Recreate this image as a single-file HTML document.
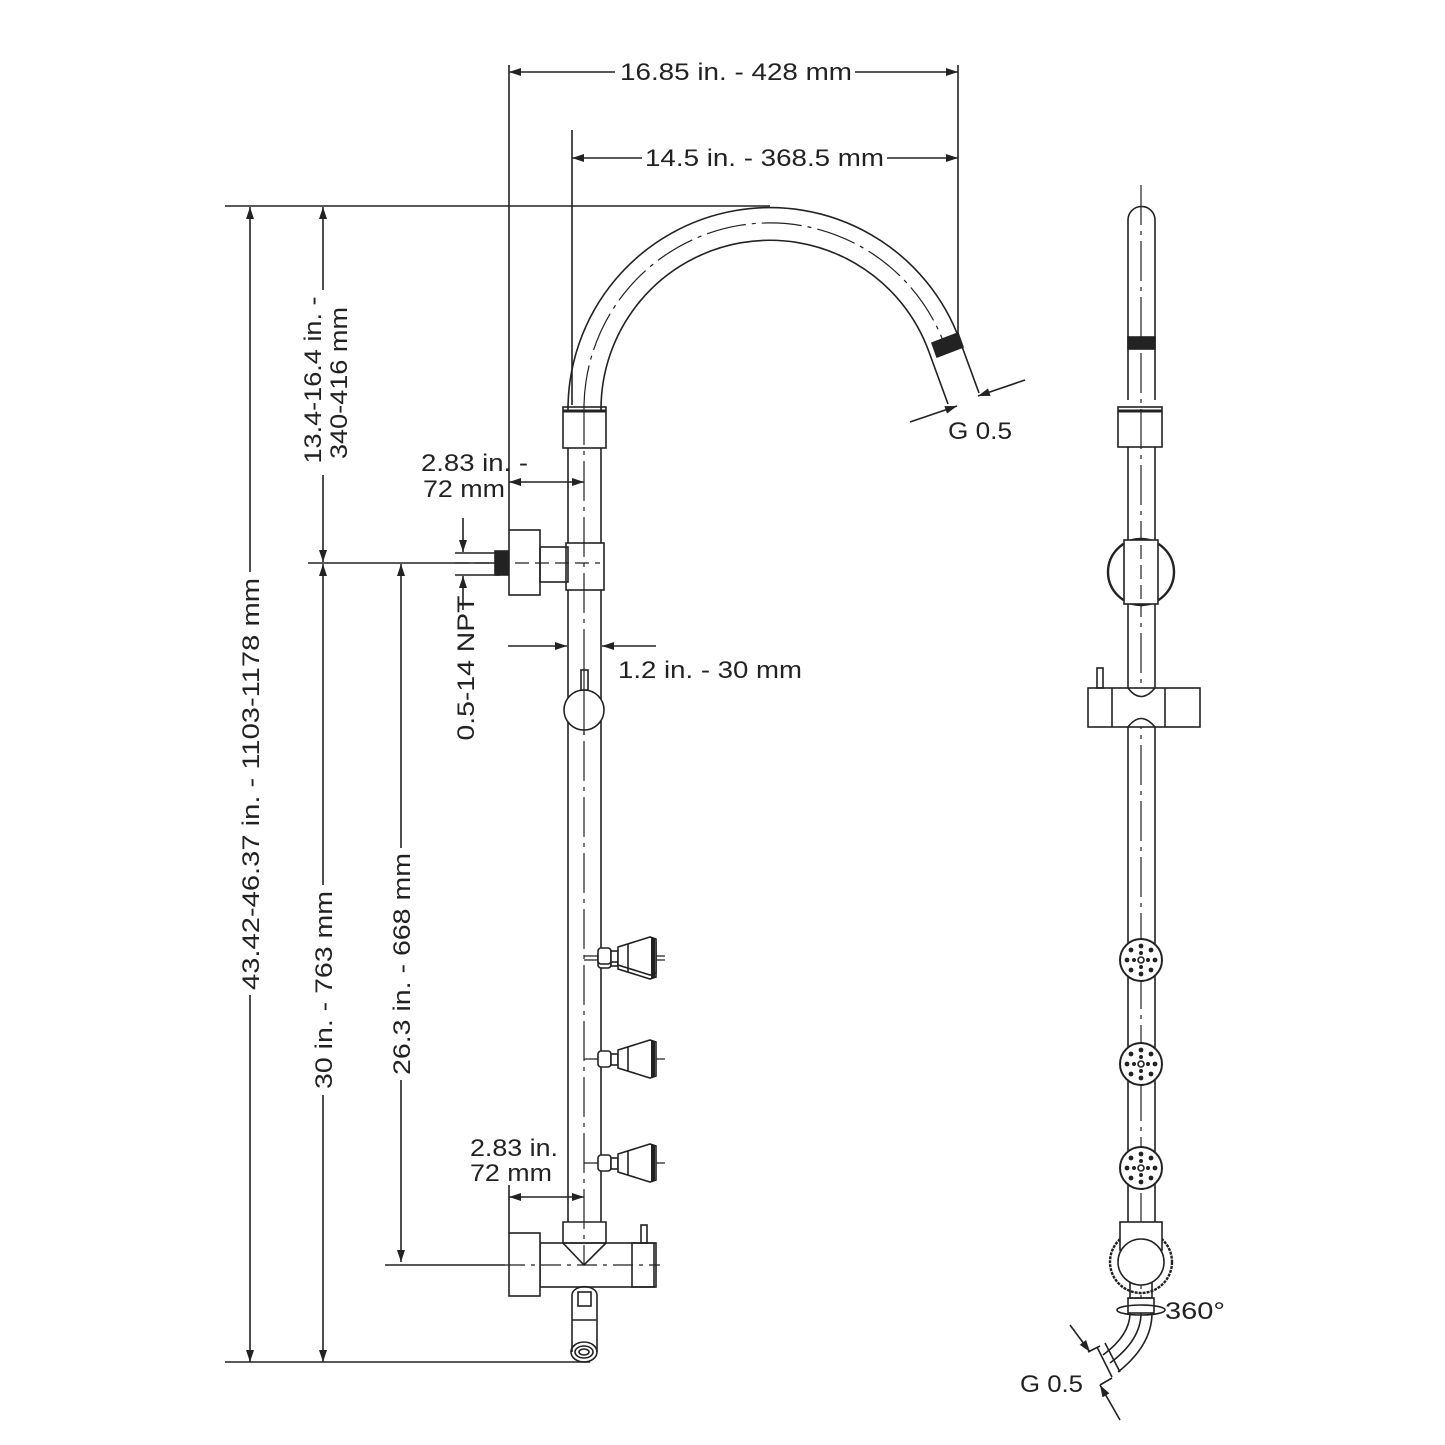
<!DOCTYPE html>
<html><head><meta charset="utf-8"><style>
html,body{margin:0;padding:0;background:#fff}
svg{display:block}
text{font-family:"Liberation Sans",sans-serif;fill:#222;font-size:24px}
</style></head><body>
<svg width="1445" height="1445" viewBox="0 0 1445 1445" xmlns="http://www.w3.org/2000/svg">
<defs>
<marker id="a" viewBox="0 0 12 8" refX="12" refY="4" markerWidth="12" markerHeight="8" orient="auto-start-reverse" markerUnits="userSpaceOnUse"><path d="M0,0 L12,4 L0,8 z" fill="#222"/></marker>
</defs>
<g stroke="#222" stroke-width="1.6" fill="none">
<line x1="225" y1="206" x2="770" y2="206"/>
<line x1="509" y1="65" x2="509" y2="530"/>
<line x1="958" y1="65" x2="958" y2="342"/>
<line x1="572" y1="130" x2="572" y2="405"/>
<line x1="308" y1="563" x2="498" y2="563"/>
<line x1="455" y1="553" x2="500" y2="553"/>
<line x1="455" y1="575" x2="500" y2="575"/>
<line x1="385" y1="1265" x2="505" y2="1265"/>
<line x1="225" y1="1362" x2="590" y2="1362"/>
<line x1="509" y1="1185" x2="509" y2="1233"/>
<line x1="509" y1="72" x2="615" y2="72" marker-start="url(#a)"/>
<line x1="855" y1="72" x2="958" y2="72" marker-end="url(#a)"/>
<line x1="572" y1="158" x2="642" y2="158" marker-start="url(#a)"/>
<line x1="887" y1="158" x2="958" y2="158" marker-end="url(#a)"/>
<line x1="250" y1="207" x2="250" y2="572" marker-start="url(#a)"/>
<line x1="250" y1="995" x2="250" y2="1362" marker-end="url(#a)"/>
<line x1="323" y1="207" x2="323" y2="290" marker-start="url(#a)"/>
<line x1="323" y1="475" x2="323" y2="562" marker-end="url(#a)"/>
<line x1="323" y1="564" x2="323" y2="885" marker-start="url(#a)"/>
<line x1="323" y1="1095" x2="323" y2="1362" marker-end="url(#a)"/>
<line x1="401" y1="564" x2="401" y2="848" marker-start="url(#a)"/>
<line x1="401" y1="1080" x2="401" y2="1262" marker-end="url(#a)"/>
<line x1="509" y1="482" x2="584" y2="482" marker-start="url(#a)" marker-end="url(#a)"/>
<line x1="509" y1="1197" x2="584" y2="1197" marker-start="url(#a)" marker-end="url(#a)"/>
<line x1="463" y1="518" x2="463" y2="552" marker-end="url(#a)"/>
<line x1="463" y1="610" x2="463" y2="576" marker-end="url(#a)"/>
<line x1="508" y1="646" x2="567" y2="646" marker-end="url(#a)"/>
<line x1="656" y1="646" x2="602" y2="646" marker-end="url(#a)"/>
<line x1="910" y1="422" x2="957" y2="406" marker-end="url(#a)"/>
<line x1="1025" y1="380" x2="978" y2="396" marker-end="url(#a)"/>
<path d="M568,405 L568,410 A202,202 0 0 1 960,341"/>
<path d="M601,405 L601,410 A169,169 0 0 1 929,352"/>
<path d="M584,405 A186,186 0 0 1 945,346" stroke-dasharray="40,6,4,6" stroke-width="1.2"/>
<path d="M960,341 L979,393 M929,352 L948,404"/>
<path d="M932,343 L958,333 L963,347 L937,357 z" fill="#222"/>
<line x1="568" y1="448" x2="568" y2="543"/>
<line x1="601" y1="448" x2="601" y2="543"/>
<line x1="568" y1="590" x2="568" y2="1222"/>
<line x1="601" y1="590" x2="601" y2="1222"/>
<line x1="584" y1="405" x2="584" y2="1265" stroke-dasharray="40,6,4,6" stroke-width="1.2"/>
<rect x="563" y="407" width="43" height="41"/>
<line x1="563" y1="411" x2="606" y2="411" stroke-width="3"/>
<rect x="509" y="530" width="31" height="65"/>
<rect x="540" y="547" width="28" height="35"/>
<rect x="566" y="543" width="38" height="47"/>
<rect x="495" y="551" width="13" height="24" fill="#222"/>
<line x1="455" y1="563" x2="600" y2="563" stroke-dasharray="14,6" stroke-width="1.2"/>
<circle cx="584" cy="710" r="20" fill="#fff"/>
<rect x="581" y="670" width="7" height="20" fill="#fff"/>
<line x1="584" y1="668" x2="584" y2="735" stroke-width="1.2"/>
<g id="jet">
<line x1="584" y1="960" x2="665" y2="960" stroke-width="1.2"/>
<rect x="598" y="952" width="13" height="16" rx="3" fill="#fff"/>
<rect x="611" y="955" width="7" height="11" fill="#fff"/>
<path d="M618,951 L650,941 L656,943 L656,977 L650,979 L618,969 z" fill="#fff"/>
<line x1="628" y1="948" x2="628" y2="972"/>
<line x1="653" y1="942" x2="653" y2="978" stroke-width="4"/>
</g>
<use href="#jet" y="-4"/>
<use href="#jet" y="99"/>
<use href="#jet" y="203"/>
<path d="M563,1222 L606,1222 L606,1243 L584,1265 L563,1243 z"/>
<rect x="540" y="1243" width="116" height="44"/>
<line x1="563" y1="1243" x2="606" y2="1243"/>
<rect x="509" y="1233" width="31" height="63" fill="#fff"/>
<rect x="632" y="1243" width="22" height="44"/>
<rect x="641" y="1225" width="6" height="18"/>
<line x1="505" y1="1265" x2="660" y2="1265" stroke-dasharray="20,6,4,6" stroke-width="1.2"/>
<path d="M572,1295 A12,8 0 0 1 597,1295 L597,1352 M572,1295 L572,1352"/>
<rect x="578" y="1292" width="13" height="14"/>
<line x1="572" y1="1320" x2="597" y2="1320"/>
<ellipse cx="584" cy="1352" rx="13" ry="10"/>
<ellipse cx="584" cy="1352" rx="9" ry="6"/>
<ellipse cx="584" cy="1352" rx="5" ry="3"/>
<!-- right view -->
<path d="M1128,400 L1128,220 A13.5,13.5 0 0 1 1155,220 L1155,400"/>
<rect x="1128" y="337" width="27" height="12" fill="#222"/>
<rect x="1118" y="407" width="44" height="40"/>
<line x1="1118" y1="411" x2="1162" y2="411" stroke-width="3"/>
<line x1="1128" y1="447" x2="1128" y2="1222"/>
<line x1="1155" y1="447" x2="1155" y2="1222"/>
<line x1="1141" y1="185" x2="1141" y2="1305" stroke-dasharray="40,6,4,6" stroke-width="1.2"/>
<circle cx="1141" cy="572" r="33" fill="#fff" stroke-width="2.4"/>
<rect x="1124" y="540" width="34" height="64" fill="#fff"/>
<line x1="1141" y1="545" x2="1141" y2="600" stroke-dasharray="14,6" stroke-width="1.2"/>
<rect x="1088" y="688" width="112" height="39" fill="#fff"/>
<line x1="1112" y1="688" x2="1112" y2="727"/>
<line x1="1165" y1="688" x2="1165" y2="727"/>
<rect x="1097" y="668" width="6" height="20"/>
<path d="M1128,688 Q1141,705 1155,688 M1128,727 Q1141,710 1155,727"/>
<g id="rj">
<circle cx="1141" cy="960" r="21" fill="#fff" stroke-width="2"/>
<g fill="#222" stroke="none">
<circle cx="1141" cy="946" r="2.4"/><circle cx="1141" cy="974" r="2.4"/>
<circle cx="1127" cy="960" r="2.4"/><circle cx="1155" cy="960" r="2.4"/>
<circle cx="1131" cy="950" r="2.4"/><circle cx="1151" cy="950" r="2.4"/>
<circle cx="1131" cy="970" r="2.4"/><circle cx="1151" cy="970" r="2.4"/>
<circle cx="1141" cy="953" r="2"/><circle cx="1141" cy="967" r="2"/>
<circle cx="1134" cy="960" r="2"/><circle cx="1148" cy="960" r="2"/>
</g>
<circle cx="1141" cy="960" r="3" fill="#fff"/>
</g>
<use href="#rj" y="104"/>
<use href="#rj" y="208"/>
<circle cx="1141" cy="1262" r="31" stroke-width="2.4" stroke-dasharray="3,1"/>
<rect x="1120" y="1222" width="42" height="28" fill="#fff"/>
<circle cx="1141" cy="1262" r="23" fill="#fff"/>
<path d="M1130,1282 L1130,1298 L1152,1298 L1152,1282"/>
<rect x="1128" y="1298" width="26" height="15"/>
<ellipse cx="1141" cy="1310" rx="24" ry="5"/>
<path d="M1130,1313 Q1130,1335 1103,1355 M1152,1313 Q1152,1345 1118,1372 M1141,1313 Q1141,1340 1110,1363"/>
<path d="M1097,1347 L1112,1377 M1105,1343 L1120,1372"/>
<line x1="1070" y1="1325" x2="1090" y2="1352" marker-end="url(#a)"/>
<line x1="1120" y1="1420" x2="1100" y2="1385" marker-end="url(#a)"/>
<line x1="1088" y1="1352" x2="1100" y2="1346"/>
<line x1="1100" y1="1385" x2="1112" y2="1378"/>
</g>
<g>
<text x="620" y="80" textLength="232" lengthAdjust="spacingAndGlyphs">16.85 in. - 428 mm</text>
<text x="645" y="166" textLength="239" lengthAdjust="spacingAndGlyphs">14.5 in. - 368.5 mm</text>
<text x="421" y="471" textLength="107" lengthAdjust="spacingAndGlyphs">2.83 in. -</text>
<text x="423" y="497" textLength="82" lengthAdjust="spacingAndGlyphs">72 mm</text>
<text x="470" y="1156" textLength="88" lengthAdjust="spacingAndGlyphs">2.83 in.</text>
<text x="470" y="1181" textLength="82" lengthAdjust="spacingAndGlyphs">72 mm</text>
<text x="618" y="678" textLength="184" lengthAdjust="spacingAndGlyphs">1.2 in. - 30 mm</text>
<text x="948" y="439" textLength="64" lengthAdjust="spacingAndGlyphs">G 0.5</text>
<text x="1165" y="1319" textLength="60" lengthAdjust="spacingAndGlyphs">360°</text>
<text x="1020" y="1392" textLength="63" lengthAdjust="spacingAndGlyphs">G 0.5</text>
<text transform="translate(259,784) rotate(-90)" text-anchor="middle" textLength="412" lengthAdjust="spacingAndGlyphs">43.42-46.37 in. - 1103-1178 mm</text>
<text transform="translate(321,380) rotate(-90)" text-anchor="middle" textLength="167" lengthAdjust="spacingAndGlyphs">13.4-16.4 in. -</text>
<text transform="translate(347,383) rotate(-90)" text-anchor="middle" textLength="152" lengthAdjust="spacingAndGlyphs">340-416 mm</text>
<text transform="translate(332,990) rotate(-90)" text-anchor="middle" textLength="198" lengthAdjust="spacingAndGlyphs">30 in. - 763 mm</text>
<text transform="translate(410,964) rotate(-90)" text-anchor="middle" textLength="222" lengthAdjust="spacingAndGlyphs">26.3 in. - 668 mm</text>
<text transform="translate(474,668) rotate(-90)" text-anchor="middle" textLength="145" lengthAdjust="spacingAndGlyphs">0.5-14 NPT</text>
</g>
</svg>
</body></html>
